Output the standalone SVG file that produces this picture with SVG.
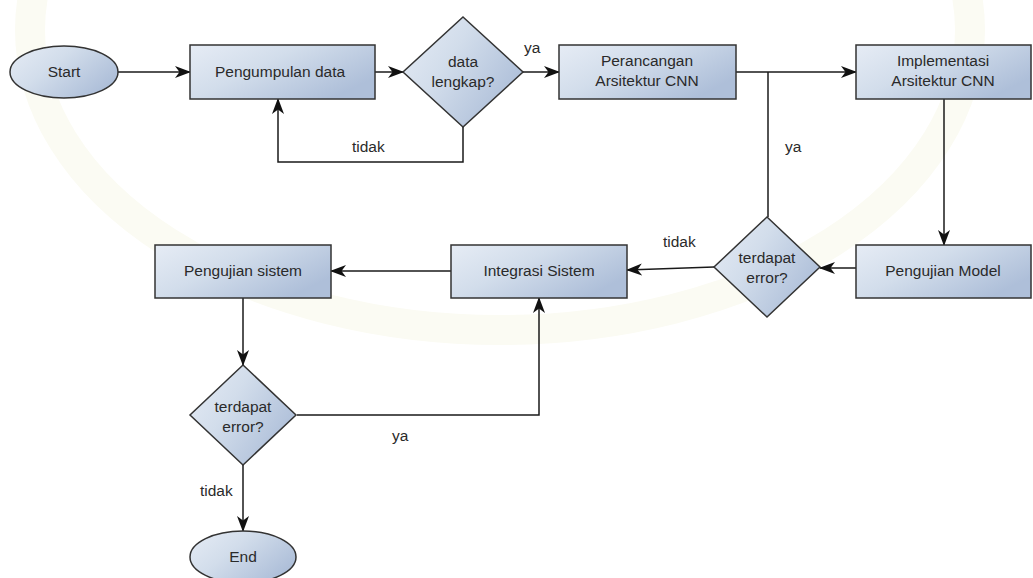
<svg xmlns="http://www.w3.org/2000/svg" width="1033" height="578" viewBox="0 0 1033 578">
  <defs>
    <linearGradient id="fillBlue" x1="0" y1="0" x2="1" y2="0.6">
      <stop offset="0" stop-color="#e6ecf5"/>
      <stop offset="0.45" stop-color="#d2ddeb"/>
      <stop offset="1" stop-color="#aebfd9"/>
    </linearGradient>
    <marker id="arrow" viewBox="0 0 16 13" refX="15" refY="6.5" markerWidth="16" markerHeight="13" markerUnits="userSpaceOnUse" orient="auto">
      <path d="M0,0.5 L16,6.5 L0,12.5 L4.5,6.5 Z" fill="#111"/>
    </marker>
    <style>
      .shape { fill: url(#fillBlue); stroke: #333333; stroke-width: 1.5; }
      .lbl { font-family: "Liberation Sans", Arial, sans-serif; font-size: 15.5px; fill: #2a2a2a; text-anchor: middle; }
      .edge { fill: none; stroke: #1a1a1a; stroke-width: 1.5; }
      .elbl { font-family: "Liberation Sans", Arial, sans-serif; font-size: 15.5px; fill: #2a2a2a; }
    </style>
  </defs>

  <!-- page background with faint seal ring -->
  <rect x="0" y="0" width="1033" height="578" fill="#ffffff"/>
  <ellipse cx="500" cy="30" rx="470" ry="300" fill="none" stroke="#fbfbf3" stroke-width="30"/>

  <!-- connectors -->
  <g id="connectors">
    <line class="edge" x1="118" y1="72" x2="190" y2="72" marker-end="url(#arrow)"/>
    <line class="edge" x1="375" y1="72" x2="403" y2="72" marker-end="url(#arrow)"/>
    <polyline class="edge" points="463,127 463,162 278,162 278,99" marker-end="url(#arrow)"/>
    <line class="edge" x1="523" y1="72" x2="559" y2="72" marker-end="url(#arrow)"/>
    <line class="edge" x1="736" y1="72" x2="856" y2="72" marker-end="url(#arrow)"/>
    <line class="edge" x1="768" y1="72" x2="768" y2="217"/>
    <line class="edge" x1="944" y1="99" x2="944" y2="245" marker-end="url(#arrow)"/>
    <line class="edge" x1="856" y1="268" x2="820" y2="268" marker-end="url(#arrow)"/>
    <line class="edge" x1="714" y1="267" x2="627" y2="270" marker-end="url(#arrow)"/>
    <line class="edge" x1="451" y1="271" x2="331" y2="271" marker-end="url(#arrow)"/>
    <line class="edge" x1="243" y1="298" x2="243" y2="365" marker-end="url(#arrow)"/>
    <polyline class="edge" points="297,415 539,415 539,298" marker-end="url(#arrow)"/>
    <line class="edge" x1="243" y1="465" x2="243" y2="531" marker-end="url(#arrow)"/>

    <text class="elbl" x="524" y="53">ya</text>
    <text class="elbl" x="352" y="152">tidak</text>
    <text class="elbl" x="785" y="152">ya</text>
    <text class="elbl" x="663" y="247">tidak</text>
    <text class="elbl" x="392" y="441">ya</text>
    <text class="elbl" x="200" y="496">tidak</text>
  </g>

  <!-- nodes -->
  <g id="start">
    <ellipse class="shape" cx="64" cy="72" rx="54" ry="26"/>
    <text class="lbl" x="64" y="77">Start</text>
  </g>

  <g id="pengumpulan-data">
    <rect class="shape" x="190" y="45" width="185" height="54"/>
    <text class="lbl" x="280" y="77">Pengumpulan data</text>
  </g>

  <g id="data-lengkap">
    <polygon class="shape" points="463,17 523,72 463,127 403,72"/>
    <text class="lbl" x="463" y="67">data</text>
    <text class="lbl" x="463" y="87">lengkap?</text>
  </g>

  <g id="perancangan">
    <rect class="shape" x="559" y="45" width="177" height="54"/>
    <text class="lbl" x="647" y="66">Perancangan</text>
    <text class="lbl" x="647" y="86">Arsitektur CNN</text>
  </g>

  <g id="implementasi">
    <rect class="shape" x="856" y="45" width="175" height="54"/>
    <text class="lbl" x="943" y="66">Implementasi</text>
    <text class="lbl" x="943" y="86">Arsitektur CNN</text>
  </g>

  <g id="pengujian-model">
    <rect class="shape" x="856" y="245" width="175" height="53"/>
    <text class="lbl" x="943" y="276">Pengujian Model</text>
  </g>

  <g id="error-model">
    <polygon class="shape" points="767,217 820,267 767,317 714,267"/>
    <text class="lbl" x="767" y="263">terdapat</text>
    <text class="lbl" x="767" y="283">error?</text>
  </g>

  <g id="integrasi-sistem">
    <rect class="shape" x="451" y="245" width="176" height="53"/>
    <text class="lbl" x="539" y="276">Integrasi Sistem</text>
  </g>

  <g id="pengujian-sistem">
    <rect class="shape" x="155" y="245" width="176" height="53"/>
    <text class="lbl" x="243" y="276">Pengujian sistem</text>
  </g>

  <g id="error-sistem">
    <polygon class="shape" points="243,365 296,415 243,465 190,415"/>
    <text class="lbl" x="243" y="412">terdapat</text>
    <text class="lbl" x="243" y="432">error?</text>
  </g>

  <g id="end">
    <ellipse class="shape" cx="243" cy="557" rx="53" ry="26"/>
    <text class="lbl" x="243" y="562">End</text>
  </g>
</svg>
